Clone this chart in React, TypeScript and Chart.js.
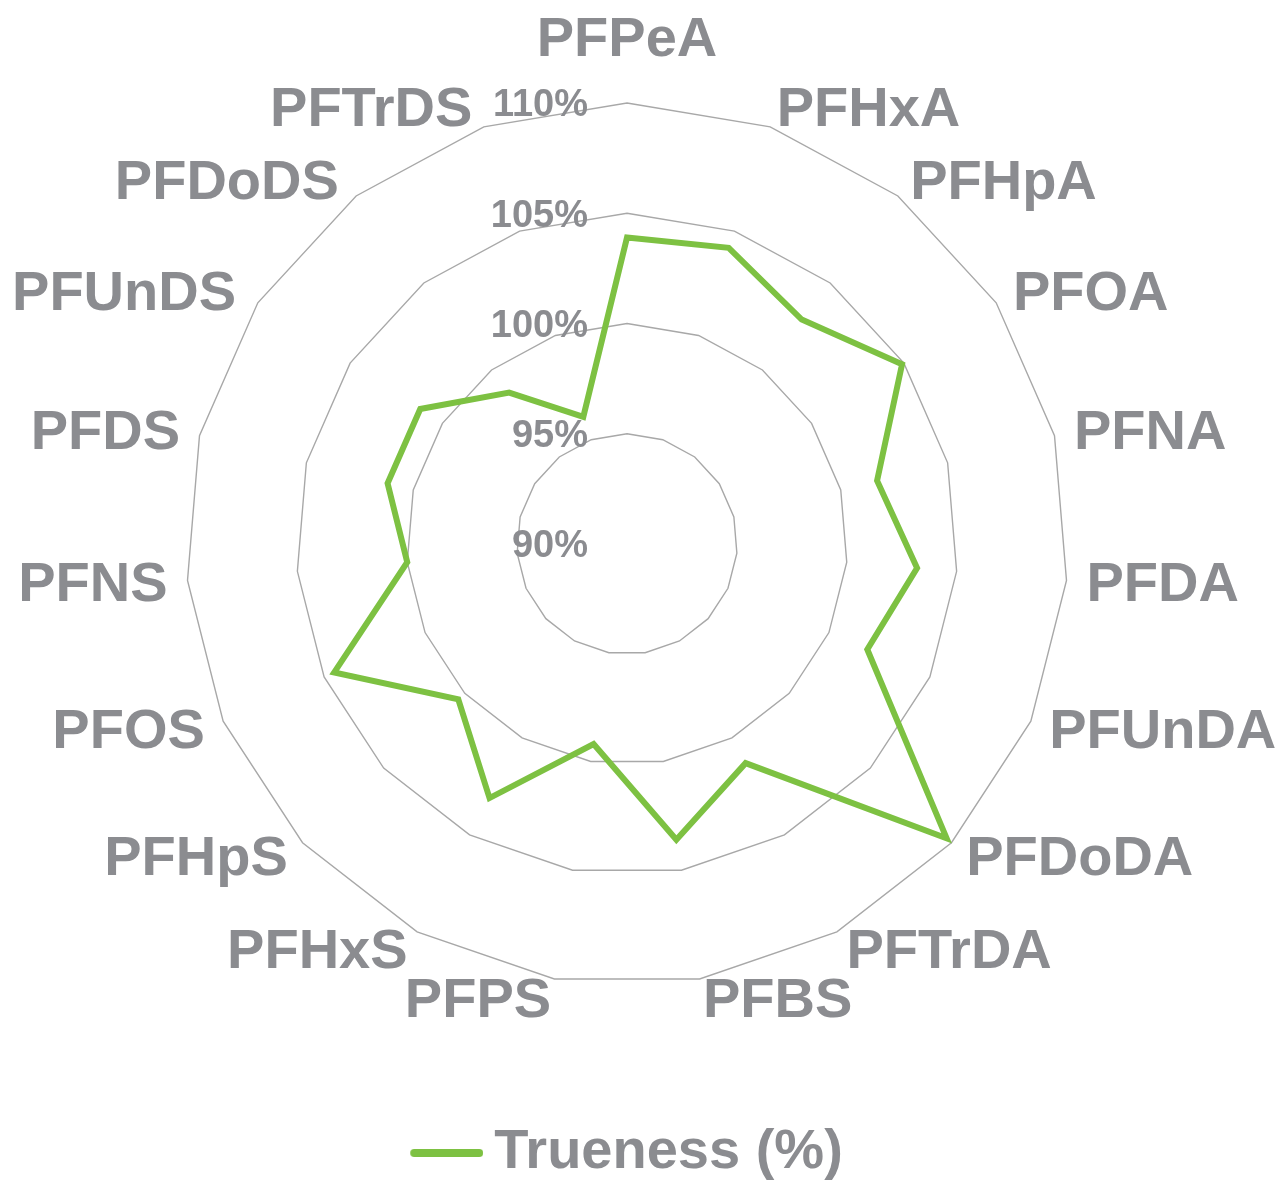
import React, { useEffect, useRef } from "react";
import { Chart, registerables } from "chart.js";

Chart.register(...registerables);

const categories = [
  "PFPeA", "PFHxA", "PFHpA", "PFOA", "PFNA", "PFDA", "PFUnDA", "PFDoDA", "PFTrDA",
  "PFBS", "PFPS", "PFHxS", "PFHpS", "PFOS", "PFNS", "PFDS", "PFUnDS", "PFDoDS", "PFTrDS",
];
const trueness = [
  103.9, 104.2, 102.9, 104.9, 101.7, 103.2, 101.9, 109.7, 101.3,
  103.6, 99.2, 103.1, 100.4, 104.5, 100.0, 101.2, 101.2, 98.7, 96.1,
];
const seriesLabel = "Trueness (%)";
const scaleMin = 90;
const scaleMax = 110;
const scaleStep = 5;

const GRAY = "#8b8c90";
const GREEN = "#7dc142";
const GRID = "#a8a8a8";
const FONT = '"Liberation Sans", Arial, sans-serif';

function makeLegendLine(): HTMLCanvasElement {
  // legend marker: a thick rounded line, offset right inside a wider image
  const c = document.createElement("canvas");
  c.width = 88;
  c.height = 12;
  const g = c.getContext("2d")!;
  g.strokeStyle = GREEN;
  g.lineWidth = 8;
  g.lineCap = "round";
  g.beginPath();
  g.moveTo(19, 6);
  g.lineTo(84, 6);
  g.stroke();
  return c;
}

const excelLabels = {
  id: "excelLabels",
  afterDraw(chart: any) {
    const scale = chart.scales.r;
    const ctx = chart.ctx as CanvasRenderingContext2D;
    ctx.save();
    ctx.fillStyle = GRAY;
    // radial tick labels, right-aligned left of the centre
    ctx.font = `bold 38px ${FONT}`;
    ctx.textAlign = "right";
    ctx.textBaseline = "middle";
    scale.ticks.forEach((t: any) => {
      const y = scale.yCenter - scale.getDistanceFromCenterForValue(t.value);
      ctx.fillText(`${t.value}%`, scale.xCenter - 39, y + 3);
    });
    // category labels
    ctx.font = `bold 56px ${FONT}`;
    const labels = chart.data.labels as string[];
    labels.forEach((lab, i) => {
      const p = scale.getPointPosition(i, scale.drawingArea + 20);
      const dx = p.x - scale.xCenter;
      const dy = p.y - scale.yCenter;
      const align: CanvasTextAlign = Math.abs(dx) < 2 ? "center" : dx > 0 ? "left" : "right";
      let x = p.x;
      let y = p.y + 3;
      if (align === "center") y = dy < 0 ? p.y - 42 : p.y + 42;
      if (align === "right" && dy < -200) x -= 5;
      ctx.textAlign = align;
      ctx.fillText(lab, x, y);
    });
    ctx.restore();
  },
};

export default function App() {
  const ref = useRef<HTMLCanvasElement | null>(null);

  useEffect(() => {
    document.body.style.margin = "0";
    const canvas = ref.current;
    if (!canvas) return;
    const marker = makeLegendLine();
    const chart = new Chart(canvas, {
      type: "radar",
      data: {
        labels: categories,
        datasets: [
          {
            label: seriesLabel,
            data: trueness,
            borderColor: GREEN,
            backgroundColor: GREEN,
            borderWidth: 6,
            pointRadius: 0,
            pointHoverRadius: 0,
            fill: false,
            tension: 0,
          },
        ],
      },
      options: {
        responsive: false,
        animation: false,
        layout: { padding: { left: 186, right: 213, top: 0, bottom: -7 } },
        scales: {
          r: {
            min: scaleMin,
            max: scaleMax,
            ticks: { stepSize: scaleStep, display: false },
            grid: { color: GRID, lineWidth: 1.4, circular: false },
            angleLines: { display: false },
            pointLabels: { display: false },
          },
        },
        plugins: {
          tooltip: { enabled: false },
          legend: {
            position: "bottom",
            labels: {
              usePointStyle: true,
              pointStyleWidth: 54,
              padding: 36,
              color: GRAY,
              font: { family: FONT, size: 56, weight: "bold" },
              generateLabels: (c: any) =>
                c.data.datasets.map((ds: any, i: number) => ({
                  text: ds.label,
                  fillStyle: GREEN,
                  strokeStyle: GREEN,
                  lineWidth: 8,
                  lineCap: "round",
                  pointStyle: marker,
                  hidden: false,
                  datasetIndex: i,
                  fontColor: GRAY,
                })),
            },
          },
        },
      } as any,
      plugins: [excelLabels],
    });
    return () => chart.destroy();
  }, []);

  return (
    <div style={{ width: 1282, height: 1184 }}>
      <canvas ref={ref} width={1282} height={1184} style={{ display: "block" }} />
    </div>
  );
}
